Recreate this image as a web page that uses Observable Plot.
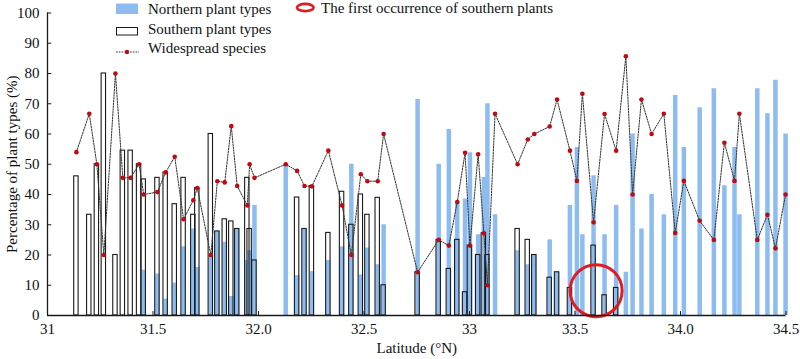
<!DOCTYPE html>
<html><head><meta charset="utf-8">
<script src="https://cdn.jsdelivr.net/npm/d3@7"></script>
<script src="https://cdn.jsdelivr.net/npm/@observablehq/plot@0.6"></script>
<style>
body{margin:0;background:#fff;}
#wrap{position:relative;width:800px;height:359px;}
#legend{position:absolute;left:0;top:0;pointer-events:none;}
#legend text{font-family:'Liberation Serif','Times New Roman',serif;font-size:15px;fill:#111;dominant-baseline:central;}
</style></head><body><div id="wrap"></div>
<script>
// Station latitudes (°N)
const latitude = [31.137,31.198,31.234,31.267,31.322,31.357,31.394,31.434,31.456,31.521,
  31.560,31.603,31.645,31.691,31.710,31.774,31.805,31.840,31.871,31.899,
  31.947,31.958,31.981,32.129,32.183,32.218,32.253,32.331,32.396,32.440,
  32.485,32.516,32.565,32.593,32.754,32.854,32.902,32.942,32.979,33.002,
  33.041,33.068,33.085,33.121,33.228,33.276,33.307,33.380,33.415,33.476,
  33.509,33.535,33.588,33.640,33.695,33.741,33.773,33.815,33.863,33.921,
  33.975,34.016,34.091,34.158,34.208,34.256,34.279,34.364,34.412,34.450,34.498];
// Northern plant types (%)
const northern = [0,0,0,0,0,0,0,0,15,13.7,
  5.4,10.7,22.7,28.6,15.9,20,27.8,24.2,6.3,28.6,
  18.2,21.4,36.4,49.5,13.2,28.6,14.5,18.2,22.7,50,
  13.4,22.3,16.8,30,71.4,50,61.5,37.5,38.5,53.8,
  26.7,45.6,70,33.3,21.4,16.8,20,25,14.3,36.4,
  55.5,26.7,46.2,26.7,36.4,14.3,60,28.6,40,33.3,
  72.7,55.5,68.7,75,42.9,55.5,33.3,75,66.7,77.8,60];
// Southern plant types (%)
const southern = [46,33.3,50,80,20,54.5,54.5,50,45,45.5,
  47.3,36.8,45.5,33.3,42.1,60,27.8,31.8,31.1,28.6,
  45.5,28.6,18.2,0,39,28.6,42.8,27.3,40.9,30,
  40,33.3,38.9,10,14.3,25,15.4,25,7.7,23.1,
  20,27.2,20,0,28.6,25,20,12.5,14.3,9.1,
  0,0,23.1,6.7,9.1,0,0,0,0,0,
  0,0,0,0,0,0,0,0,0,0,0];
// Widespread species (%)
const widespread = [54,66.7,50,20,80,45.5,45.5,50,40,40.8,
  47.3,52.5,31.8,38.1,42.1,20,44.4,44,62.6,42.8,
  36.4,50,45.5,50,47.8,42.8,42.7,54.5,36.4,20,
  46.7,44.4,44.4,60,14.3,25,23.1,37.5,53.8,23.1,
  53.3,27.2,10,66.7,50,58.2,60,62.5,71.4,54.5,
  44.5,73.3,30.8,66.6,54.5,85.7,40,71.4,60,66.7,
  27.3,44.5,31.3,25,57.1,44.5,66.7,25,33.3,22.2,40];
const xTickValues = [31,31.5,32,32.5,33,33.5,34,34.5];
const xTickLabels = ["31","31.5","32.0","32.5","33","33.5","34.0","34.5"];
const yTickValues = [0,10,20,30,40,50,60,70,80,90,100];
const firstOccurrence = [{lat:33.6, value:8.2}];

const rows = latitude.map((lat,i)=>({lat, N:northern[i], S:southern[i], W:widespread[i]}));
const serif = "'Liberation Serif','Times New Roman',serif";
const blue = "#8dbdf0";
const ink = "#1a1a1a";

const chart = Plot.plot({
  width:800, height:359, marginLeft:47, marginRight:14.5, marginTop:12.5, marginBottom:44,
  style:{fontFamily:serif, fontSize:"15px", color:"#111", background:"white", overflow:"visible"},
  x:{domain:[31,34.5]},
  y:{domain:[0,100]},
  marks:[
    Plot.ruleX(rows.filter(d=>d.N>0), {x:"lat", y1:0, y2:"N", stroke:blue, strokeWidth:4.5}),
    Plot.rectY(rows.filter(d=>d.S>0), {x1:"lat", x2:"lat", y1:0, y2:"S", insetLeft:-2.2, insetRight:-2.2, fill:"none", stroke:ink, strokeWidth:1.1}),
    Plot.line(rows, {x:"lat", y:"W", stroke:"#333", strokeWidth:1, strokeDasharray:"1.6 1.2"}),
    Plot.dot(rows, {x:"lat", y:"W", r:2.3, fill:"#bf0a14", stroke:"none"}),
    Plot.dot(firstOccurrence, {x:"lat", y:"value", r:26, stroke:"#e01b22", strokeWidth:3, fill:"none"}),
    Plot.ruleY([0], {stroke:ink, strokeWidth:1.3}),
    Plot.ruleX([31], {stroke:ink, strokeWidth:1.3}),
    Plot.ruleX(xTickValues, {x:d=>d, y1:0, y2:1.3, stroke:ink}),
    Plot.ruleY(yTickValues, {y:d=>d, x1:31, x2:31.02, stroke:ink}),
    Plot.axisX(xTickValues, {tickSize:0, tickPadding:8, tickFormat:d=>xTickLabels[xTickValues.indexOf(d)], label:null, fontSize:15, fill:"#111"}),
    Plot.axisY(yTickValues, {tickSize:0, tickPadding:8, label:null, fontSize:15, fill:"#111"}),
    Plot.text(["Latitude (°N)"], {frameAnchor:"bottom", dy:37, fontSize:15, fill:"#111"}),
    Plot.text(["Percentage of plant types (%)"], {frameAnchor:"left", dx:-35, rotate:-90, textAnchor:"middle", fontSize:15, fill:"#111"})
  ]
});
const wrap = document.getElementById("wrap");
wrap.appendChild(chart);
wrap.insertAdjacentHTML("beforeend", `
<svg id="legend" width="800" height="60">
<rect x="116" y="3.5" width="22" height="10.5" fill="${blue}"/>
<text x="148" y="9">Northern plant types</text>
<rect x="116.5" y="27.5" width="21" height="7.5" fill="none" stroke="${ink}"/>
<text x="148" y="28.5">Southern plant types</text>
<line x1="116" x2="139" y1="52" y2="52" stroke="#333" stroke-dasharray="1.6 1.2"/>
<circle cx="127" cy="52" r="2.2" fill="#bf0a14"/>
<text x="148" y="47.5">Widespread species</text>
<ellipse cx="305.3" cy="7.5" rx="8.3" ry="3.6" fill="none" stroke="#e01b22" stroke-width="2.6"/>
<text x="321" y="8">The first occurrence of southern plants</text>
</svg>`);
</script></body></html>
